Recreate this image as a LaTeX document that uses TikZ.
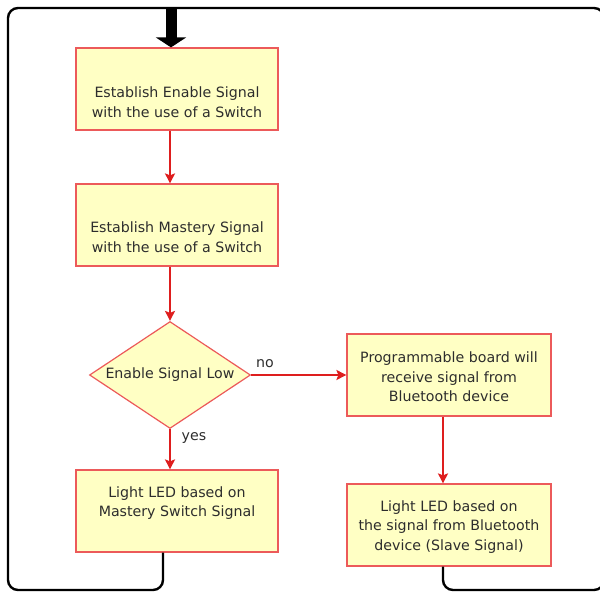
\documentclass[tikz,border=0pt]{standalone}
\usepackage{fontspec}
\setmainfont{DejaVu Sans}
\usetikzlibrary{arrows.meta,shapes.geometric,calc}
\definecolor{boxred}{RGB}{236,90,90}
\definecolor{boxfill}{RGB}{255,255,196}
\definecolor{arrred}{RGB}{222,30,30}
\definecolor{textgray}{RGB}{45,45,45}
\begin{document}
\begin{tikzpicture}[x=1pt,y=-1pt,
  box/.style={draw=boxred, fill=boxfill, line width=1.2pt, minimum width=202pt, minimum height=82pt, inner sep=0pt},
  txt/.style={align=center, text=textgray, font=\fontsize{14.2}{19.5}\selectfont},
  flow/.style={draw=arrred, line width=1.8pt, -{Stealth[length=10pt,width=10pt,inset=2pt]}},
  loopline/.style={draw=black, line width=2.4pt, rounded corners=10pt},
]
\useasboundingbox (0,0) rectangle (600,594);

\node[box] (b1) at (177,89) {};
\node[txt] (t1) at (177,102) {Establish Enable Signal\\ with the use of a Switch};
\node[box] (b2) at (177,225) {};
\node[txt] (t2) at (177,237) {Establish Mastery Signal\\ with the use of a Switch};
\node[diamond, draw=boxred, fill=boxfill, line width=1.2pt, minimum width=161pt, minimum height=107pt, aspect=1.5, inner sep=0pt, txt] (d) at (170,375) {Enable Signal Low};
\node[box] (b3) at (177,511) {};
\node[txt] (t3) at (177,503) {Light LED based on\\Mastery Switch Signal};
\node[box, minimum width=204pt] (r1) at (449,375) {};
\node[txt] (t4) at (449,377) {Programmable board will\\ receive signal from\\ Bluetooth device};
\node[box, minimum width=204pt] (r2) at (449,525) {};
\node[txt] (t5) at (449,527) {Light LED based on\\the signal from Bluetooth\\device (Slave Signal)};

\node[txt] (no) at (265,364) {no};
\node[txt] (yes) at (194,438) {yes};

\draw[flow] (b1.south -| d.north) -- (b2.north -| d.north);
\draw[flow] (b2.south -| d.north) -- (d.north);
\draw[flow] (d.south) -- (b3.north -| d.south);
\draw[flow] (d.east) -- (r1.west);
\draw[flow] ([xshift=-6pt]r1.south) -- ([xshift=-6pt]r2.north);

\coordinate (bl) at (8,590);
\coordinate (tl) at (8,8);
\coordinate (tr) at (604,8);
\coordinate (br) at (604,590);
\coordinate (top) at (171,8);
\draw[loopline] ([xshift=-14pt]b3.south) |- (bl) -- (tl) -- (tr) -- (br) -| ([xshift=-6pt]r2.south);
\draw[line width=11pt, -{Triangle[length=10pt,width=30pt]}] (top) -- (b1.north -| top);
\end{tikzpicture}
\end{document}
